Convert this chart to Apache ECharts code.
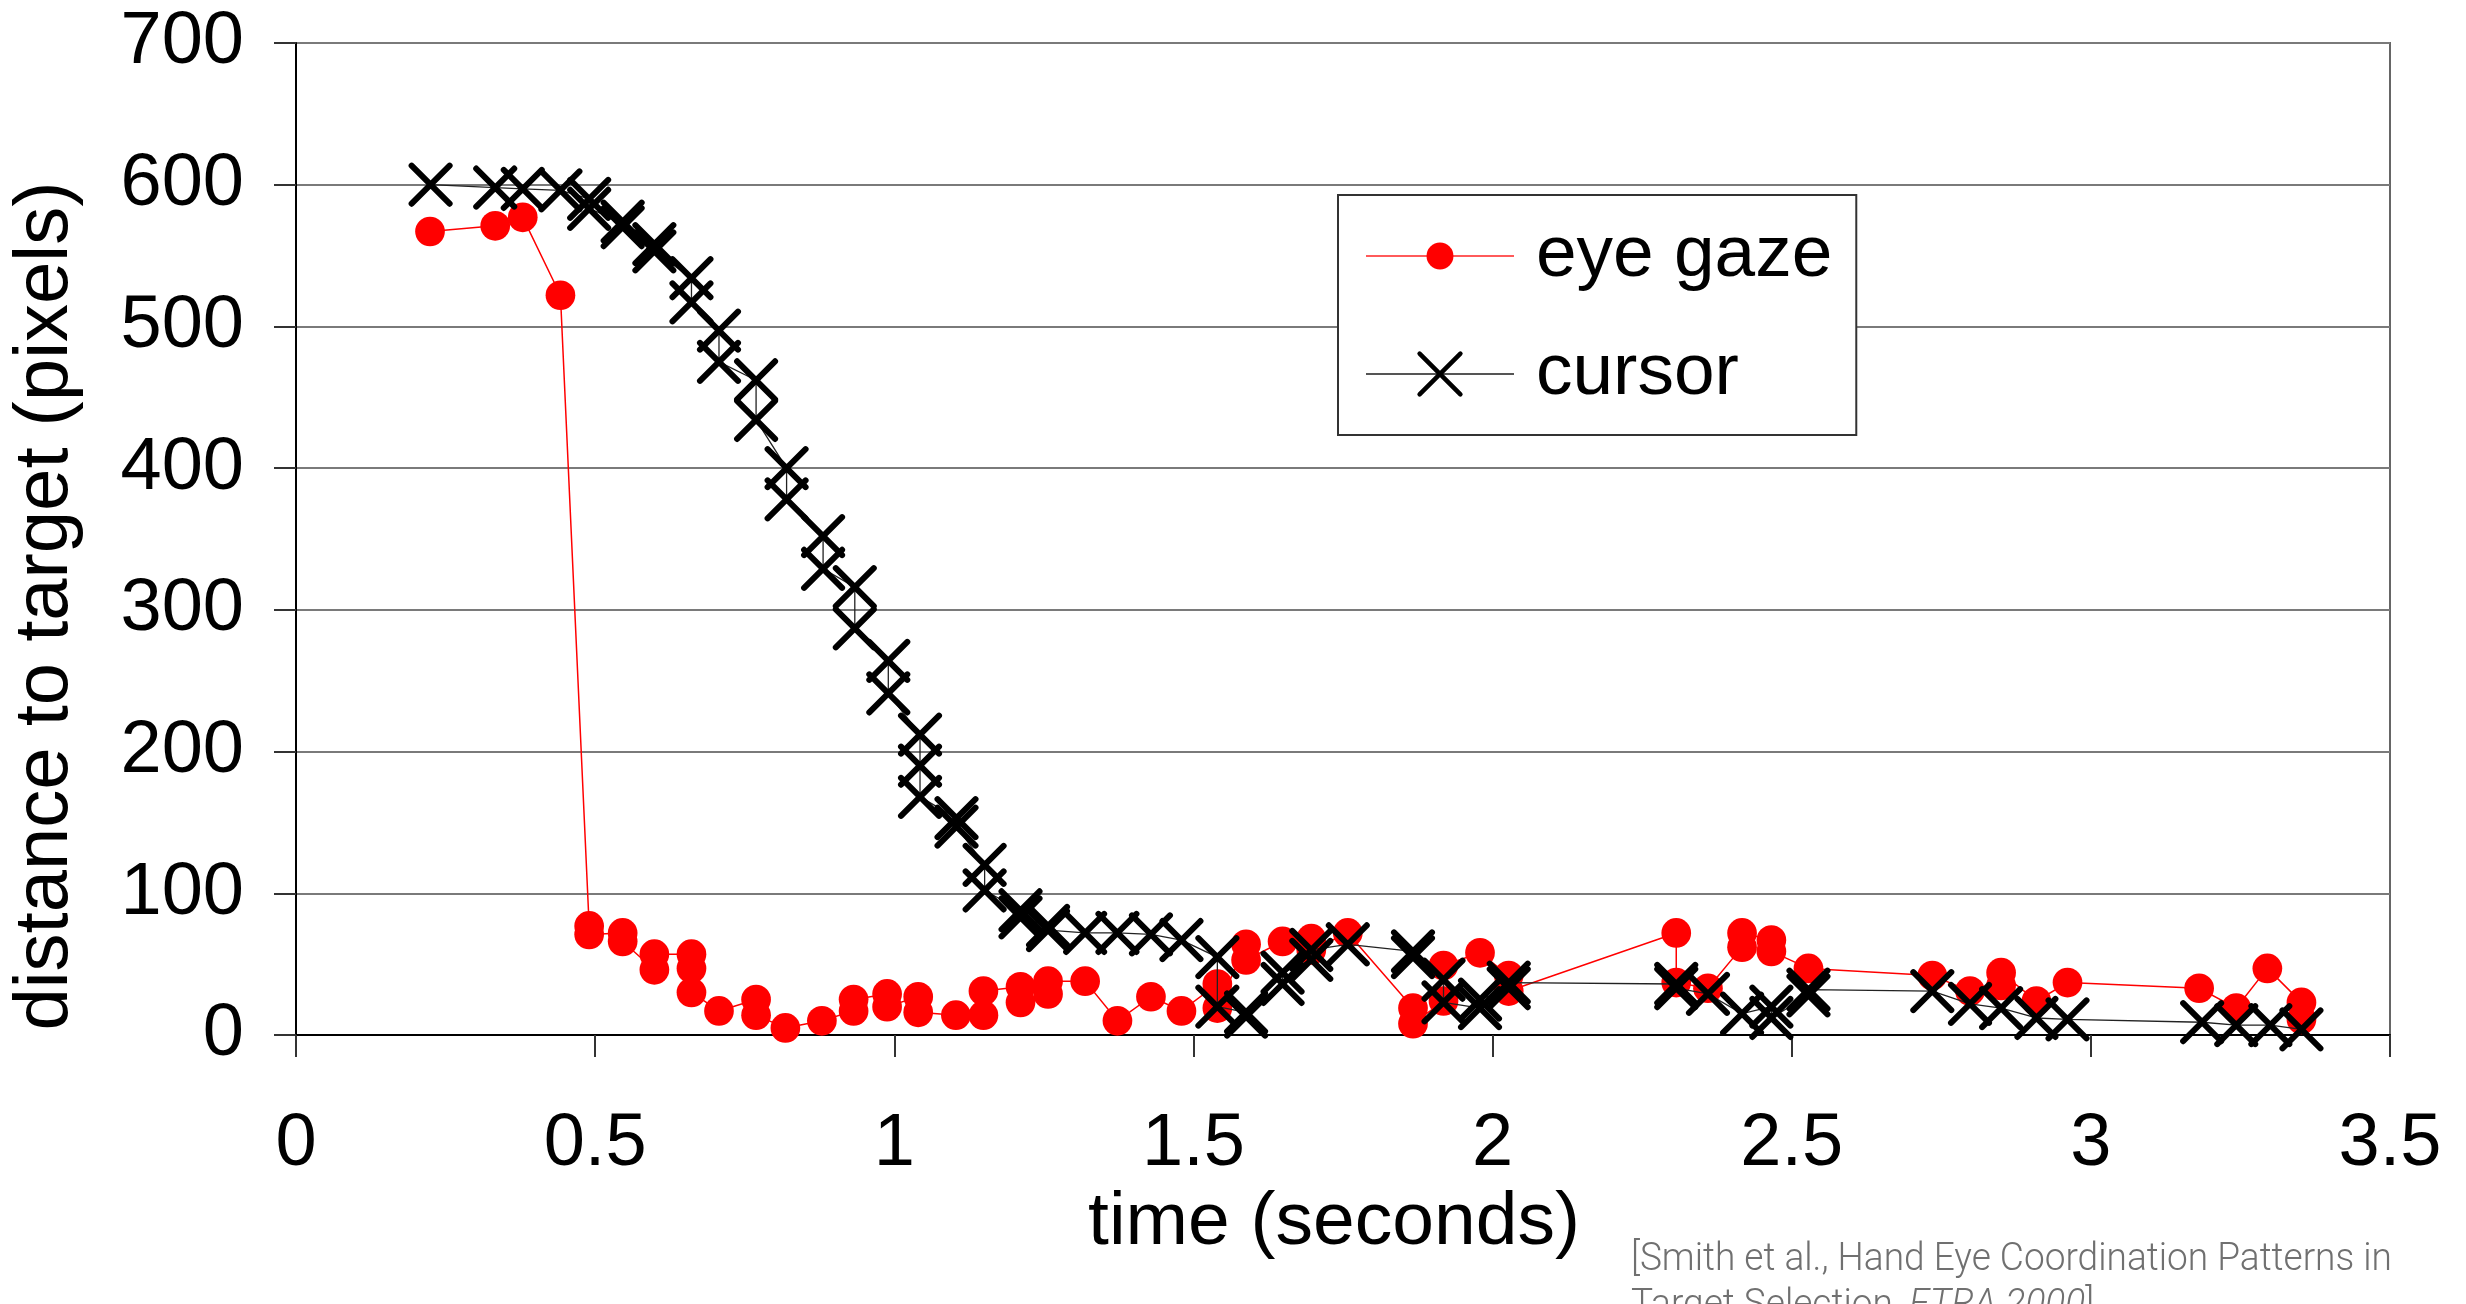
<!DOCTYPE html>
<html>
<head>
<meta charset="utf-8">
<script src="https://cdn.jsdelivr.net/npm/echarts@6/dist/echarts.min.js"></script>
<style>
  html, body { margin: 0; padding: 0; background: #fff; }
  #chart { width: 2466px; height: 1304px; }
</style>
</head>
<body>
<div id="chart"></div>
<script>
// eye gaze samples, in the order they were recorded
const eyeTime = [
  0.224, 0.333, 0.379, 0.442, 0.490, 0.490, 0.546, 0.546, 0.599, 0.599,
  0.661, 0.661, 0.661, 0.707, 0.769, 0.769, 0.818, 0.879, 0.932, 0.932,
  0.988, 0.988, 1.040, 1.040, 1.103, 1.149, 1.149, 1.211, 1.211, 1.257,
  1.257, 1.319, 1.373, 1.429, 1.480, 1.540, 1.540, 1.588, 1.588, 1.649,
  1.697, 1.697, 1.758, 1.867, 1.867, 1.918, 1.918, 1.979, 2.027, 2.027,
  2.307, 2.307, 2.360, 2.417, 2.417, 2.466, 2.466, 2.528, 2.735, 2.798,
  2.850, 2.850, 2.909, 2.961, 3.181, 3.243, 3.295, 3.352, 3.352
];
const eyeDist = [
  567, 571, 577, 522, 77, 71, 72, 66, 46, 57,
  57, 47, 30, 17, 25, 14, 5, 10, 17, 25,
  29, 20, 27, 16, 14, 14, 31, 34, 23, 29,
  38, 38, 10, 27, 17, 36, 19, 64, 53, 66,
  68, 60, 72, 19, 8, 24, 49, 58, 42, 31,
  72, 37, 33, 62, 72, 67, 59, 47, 42, 31,
  35, 44, 24, 37, 33, 19, 47, 23, 11
];

// cursor samples
const cursorTime = [
  0.225, 0.333, 0.379, 0.442, 0.490, 0.490, 0.546, 0.546, 0.599, 0.599,
  0.661, 0.661, 0.707, 0.707, 0.769, 0.769, 0.820, 0.820, 0.881, 0.881,
  0.934, 0.934, 0.990, 0.990, 1.043, 1.043, 1.043, 1.104, 1.104, 1.151,
  1.151, 1.211, 1.211, 1.257, 1.257, 1.319, 1.373, 1.429, 1.480, 1.540,
  1.540, 1.588, 1.588, 1.649, 1.649, 1.697, 1.697, 1.758, 1.867, 1.867,
  1.918, 1.918, 1.979, 1.979, 2.027, 2.027, 2.307, 2.307, 2.360, 2.417,
  2.466, 2.466, 2.528, 2.528, 2.735, 2.798, 2.850, 2.909, 2.961, 3.186,
  3.243, 3.300, 3.352
];
const cursorDist = [
  600, 598, 597, 596, 590, 583, 574, 570, 558, 553,
  534, 517, 497, 475, 462, 434, 400, 378, 352, 329,
  316, 287, 264, 241, 212, 190, 168, 153, 147, 120,
  102, 88, 83, 77, 74, 72, 72, 71, 67, 55,
  20, 16, 13, 36, 44, 53, 60, 64, 59, 55,
  39, 23, 19, 25, 33, 37, 36, 33, 29, 15,
  20, 12, 28, 32, 31, 22, 19, 12, 11, 9,
  7, 7, 4
];

const seriesNames = ['eye gaze', 'cursor'];
const yTitle = 'distance to target (pixels)';
const xTitle = 'time (seconds)';

// circle padded inside a 100x100 box so it stays smaller than the X in the legend
const dotSymbol = 'path://M0,0 M100,100 M17,50 A33,33 0 1,0 83,50 A33,33 0 1,0 17,50 Z';
const crossSymbol = 'path://M0,0 L10,10 M10,0 L0,10';

const chart = echarts.init(document.getElementById('chart'));

chart.setOption({
  animation: false,
  textStyle: { fontFamily: 'Liberation Sans, Arial, sans-serif', color: '#000' },
  grid: {
    left: 296,
    right: 76,
    top: 43,
    bottom: 269,
    show: true,
    borderColor: '#666',
    borderWidth: 2
  },
  xAxis: {
    type: 'value',
    min: 0,
    max: 3.5,
    interval: 0.5,
    axisLine: { show: true, lineStyle: { color: '#000', width: 2 } },
    axisTick: { show: true, length: 22, lineStyle: { color: '#333', width: 2 } },
    axisLabel: { fontSize: 74, color: '#000', margin: 73 },
    splitLine: { show: false }
  },
  yAxis: {
    type: 'value',
    min: 0,
    max: 700,
    interval: 100,
    axisLine: { show: true, lineStyle: { color: '#000', width: 2 } },
    axisTick: { show: true, length: 22, lineStyle: { color: '#333', width: 2 } },
    axisLabel: { fontSize: 74, color: '#000', margin: 52 },
    splitLine: { show: true, lineStyle: { color: '#7a7a7a', width: 2 } }
  },
  legend: {
    orient: 'vertical',
    left: 1338,
    top: 195,
    padding: [21, 24, 21, 27],
    itemGap: 38,
    itemWidth: 148,
    itemHeight: 51,
    backgroundColor: '#fff',
    borderColor: '#333',
    borderWidth: 2,
    borderRadius: 0,
    textStyle: { fontSize: 73, color: '#000', lineHeight: 80, padding: [0, 0, 0, 17] },
    data: [
      {
        name: seriesNames[0],
        itemStyle: { borderWidth: 0 },
        lineStyle: { width: 2, color: '#ff5a5a' }
      },
      {
        name: seriesNames[1],
        itemStyle: { color: '#000', borderColor: '#000', borderWidth: 4.5 },
        lineStyle: { width: 2, color: '#555' }
      }
    ]
  },
  graphic: [
    {
      type: 'text',
      x: 46,
      y: 606,
      rotation: Math.PI / 2,
      style: {
        text: yTitle,
        fontSize: 76,
        fontFamily: 'Liberation Sans, Arial, sans-serif',
        fill: '#000',
        align: 'center',
        verticalAlign: 'middle'
      }
    },
    {
      type: 'text',
      x: 1334,
      y: 1223,
      style: {
        text: xTitle,
        fontSize: 75,
        fontFamily: 'Liberation Sans, Arial, sans-serif',
        fill: '#000',
        align: 'center',
        verticalAlign: 'middle'
      }
    },
    {
      type: 'text',
      x: 1631,
      y: 1237,
      scaleX: 0.95,
      style: {
        text: '[Smith et al., Hand Eye Coordination Patterns in\nTarget Selection, {i|ETRA 2000}]',
        fontSize: 39,
        fontWeight: 300,
        fontFamily: 'Roboto, Liberation Sans, sans-serif',
        fill: '#707070',
        lineHeight: 46,
        align: 'left',
        verticalAlign: 'top',
        rich: {
          i: { fontStyle: 'italic', fontSize: 39, fontWeight: 300, fontFamily: 'Roboto, Liberation Sans, sans-serif', fill: '#707070', lineHeight: 46 }
        }
      }
    }
  ],
  series: [
    {
      name: seriesNames[0],
      type: 'line',
      data: eyeTime.map((t, i) => [t, eyeDist[i]]),
      symbol: dotSymbol,
      symbolSize: 45,
      showAllSymbol: true,
      lineStyle: { color: '#ff0000', width: 1.5 },
      itemStyle: { color: '#ff0000', borderWidth: 0 },
      emphasis: { disabled: true },
      z: 2
    },
    {
      name: seriesNames[1],
      type: 'line',
      data: cursorTime.map((t, i) => [t, cursorDist[i]]),
      symbol: crossSymbol,
      symbolSize: 38,
      showAllSymbol: true,
      lineStyle: { color: '#222', width: 1.3 },
      itemStyle: { color: '#000', borderColor: '#000', borderWidth: 6, borderCap: 'round' },
      emphasis: { disabled: true },
      z: 3
    }
  ]
});
</script>
</body>
</html>
